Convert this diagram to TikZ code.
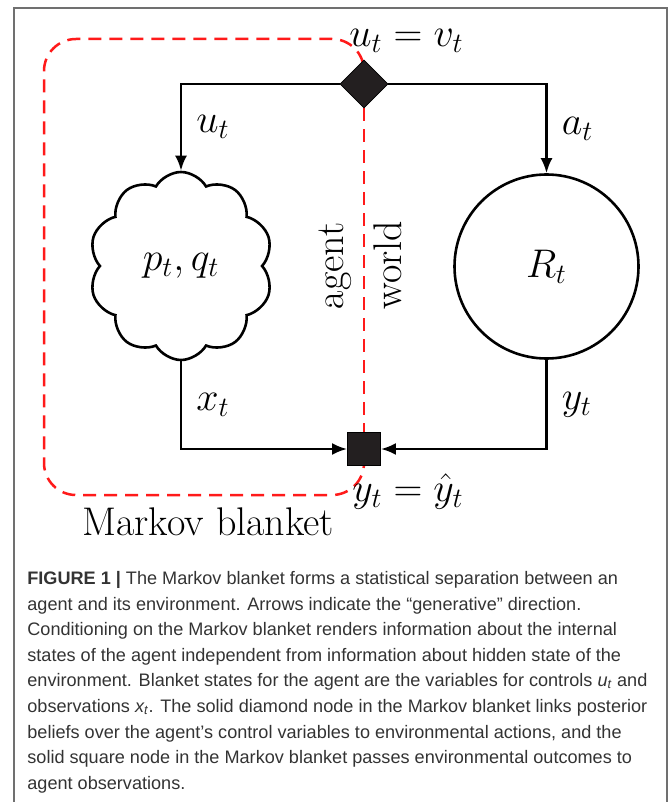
\documentclass[tikz,border=0pt]{standalone}
\usepackage{fix-cm}
\usepackage{fontspec}
\newfontfamily\capfont{Liberation Sans}
\usepackage{tikz}
\usetikzlibrary{shapes.geometric, shapes.symbols, arrows.meta, positioning, backgrounds}
\definecolor{blanketred}{HTML}{FF1A1A}
\definecolor{gatefill}{HTML}{231F20}
\definecolor{framegray}{HTML}{707070}
\definecolor{captext}{HTML}{333333}
\tikzset{
  flow/.style   ={-{Latex[length=7.5pt, width=6pt]}, line width=1.3pt, color=black},
  blanket/.style={draw=blanketred, dash pattern=on 6.5pt off 4pt, line width=1.25pt, rounded corners=16pt},
  mlbl/.style   ={font=\fontsize{20}{24}\selectfont, inner sep=2pt},
  gate/.style   ={diamond, fill=gatefill, draw=black, line width=0.4pt, minimum size=24pt, inner sep=0pt},
  sqgate/.style ={rectangle, fill=gatefill, draw=black, line width=0.4pt, minimum size=16.5pt, inner sep=0pt},
  belief/.style ={cloud, cloud puffs=10, cloud puff arc=120, aspect=1, shape border rotate=18, draw, line width=1.3pt,
                  minimum width=92pt, minimum height=94pt, inner sep=0pt, font=\fontsize{20}{24}\selectfont},
  worldst/.style={circle, draw, line width=1.3pt, minimum size=92pt, inner sep=0pt, font=\fontsize{20}{24}\selectfont},
  framebox/.style={draw=framegray, line width=0.7pt},
  caption/.style={font=\capfont\fontsize{9.05}{12.8}\selectfont, text=captext, align=left, inner sep=0pt},
}

\begin{document}
\begin{tikzpicture}[x=0.5pt, y=-0.5pt]
  \useasboundingbox (0,0) rectangle (670,802);
  \draw[framebox] (14,802) -- (14,8) -- (667,8) -- (667,802);
  % blanket nodes and states
  \node[gate] (dia) at (364,84) {};
  \node[sqgate] (sq) at (364,449) {};
  \node[belief] (agentst) at (181,266) {$p_t, q_t$};
  \node[worldst] (env) at (546.5,266.5) {$R_t$};
  \draw[flow] (dia.west) -| node[mlbl, pos=0.75, right=5pt]{$u_t$} (agentst.90);
  \draw[flow] (dia.east) -| node[mlbl, pos=0.75, right=5pt]{$a_t$} (env.north);
  \draw[flow] (agentst.270) |- node[mlbl, pos=0.25, right=5pt]{$x_t$} (sq.west);
  \draw[flow] (env.south) |- node[mlbl, pos=0.25, right=5pt]{$y_t$} (sq.east);
  \node[mlbl, anchor=base west] (ctrl) at (345,47) {$u_t = v_t$};
  \node[mlbl, anchor=base west] (obs) at (348,501) {$y_t = \hat{y}_t$};
  \node[mlbl, anchor=base west] (mb) at (78,535) {Markov blanket};
  \node[mlbl, rotate=90, anchor=south] (agentlbl) at (356,266) {agent};
  \node[mlbl, rotate=90, anchor=north] (worldlbl) at (369,265) {world};
  \begin{scope}[on background layer]
    \draw[blanket] (dia.center) |- (44,39) -- (44,495) -| (sq.center);
    \draw[blanket, rounded corners=0pt] (dia) -- (sq);
  \end{scope}
  % caption
  \node[caption, anchor=north west] (cap) at (27,571) {\textbf{FIGURE 1 |} The Markov blanket forms a statistical separation between an\\
    agent and its environment. Arrows indicate the “generative” direction.\\
    Conditioning on the Markov blanket renders information about the internal\\
    states of the agent independent from information about hidden state of the\\
    environment. Blanket states for the agent are the variables for controls {\itshape u}\textsubscript{\itshape t} and\\
    observations {\itshape x}\textsubscript{\itshape t}. The solid diamond node in the Markov blanket links posterior\\
    beliefs over the agent’s control variables to environmental actions, and the\\
    solid square node in the Markov blanket passes environmental outcomes to\\
    agent observations.};
\end{tikzpicture}
\end{document}
